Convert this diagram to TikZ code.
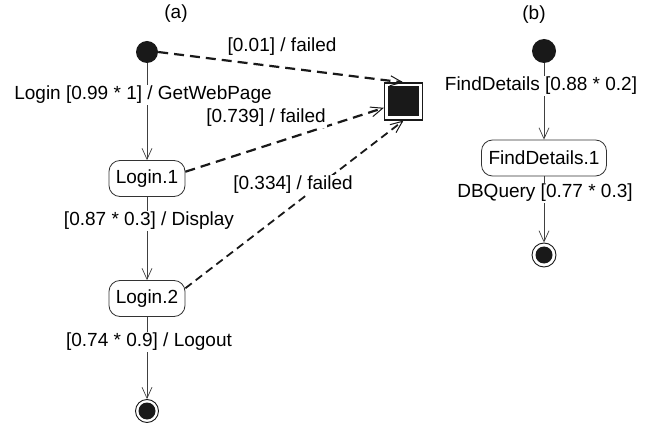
\documentclass[tikz,border=0pt]{standalone}
\usepackage{fontspec}
\setmainfont{Liberation Sans}
\usetikzlibrary{arrows.meta}
\begin{document}
\begin{tikzpicture}[x=1pt,y=-1pt,
  font=\fontsize{19}{22}\selectfont,
  state/.style={draw=black!80, line width=0.8pt, rounded corners=11pt,
    minimum height=36pt, inner xsep=5pt, fill=white},
  initstate/.style={circle, fill=black!90, minimum size=22pt, inner sep=0pt},
  finalstate/.style={circle, draw=black!90, line width=0.9pt, minimum size=23pt,
    inner sep=0pt, fill=white},
  finalcore/.style={circle, fill=black!90, minimum size=17pt, inner sep=0pt},
  lbl/.style={fill=white, inner sep=1.5pt},
  flow/.style={draw=black!75, line width=0.7pt,
    -{Straight Barb[length=11pt,width=10pt,line width=0.7pt]}},
  fail/.style={draw=black!90, line width=2.2pt, dash pattern=on 10pt off 6pt,
    -{Straight Barb[length=12pt,width=10pt,line width=1pt]}},
  failthin/.style={fail, line width=1.8pt, dash pattern=on 8pt off 5pt}
]
\fill[white] (0,0) rectangle (658,430);
\useasboundingbox (0,0) rectangle (658,430);

% ---- (a) login scenario ----
\node (capa) at (176,14) {(a)};
\node[initstate] (ia) at (147,52) {};
\node[state, minimum width=76pt] (l1) at (147,178.5) {Login.1};
\node[state, minimum width=76pt] (l2) at (147,298.5) {Login.2};
\node[finalstate] (fa) at (147,411) {};
\node[finalcore] at (fa) {};
\node[draw=black!90, line width=1.1pt, minimum width=38pt, minimum height=37pt,
  inner sep=0pt] (fbox) at (403.5,101.5) {};
\node[fill=black!90, minimum width=31pt, minimum height=30pt, inner sep=0pt]
  (fcore) at (fbox) {};

\draw[flow] (ia) -- (l1);
\draw[flow] (l1) -- (l2);
\draw[flow] (l2) -- (fa);
\draw[fail] (ia.east) -- (fbox.north);
\draw[fail] (l1.10) -- (fbox);
\draw[failthin] (l2.15) -- (fbox.south);

\node[lbl] (t1) at (143,95) {Login [0.99 * 1] / GetWebPage};
\node[lbl] (t2) at (282,47) {[0.01] / failed};
\node[lbl] (t3) at (266,118) {[0.739] / failed};
\node[lbl] (t4) at (293,185) {[0.334] / failed};
\node[lbl] (t5) at (149,221) {[0.87 * 0.3] / Display};
\node[lbl] (t6) at (149,342) {[0.74 * 0.9] / Logout};

% ---- (b) find details scenario ----
\node (capb) at (534,15) {(b)};
\node[initstate, minimum size=24pt] (ib) at (544,51) {};
\node[state, minimum width=125pt] (fd) at (544,158) {FindDetails.1};
\node[finalstate, minimum size=24pt] (fb) at (544,255) {};
\node[finalcore] at (fb) {};

\draw[flow] (ib) -- (fd);
\draw[flow] (fd) -- (fb);

\node[lbl] (t7) at (541,86) {FindDetails [0.88 * 0.2]};
\node[lbl] (t8) at (545,193) {DBQuery [0.77 * 0.3]};
\end{tikzpicture}
\end{document}
